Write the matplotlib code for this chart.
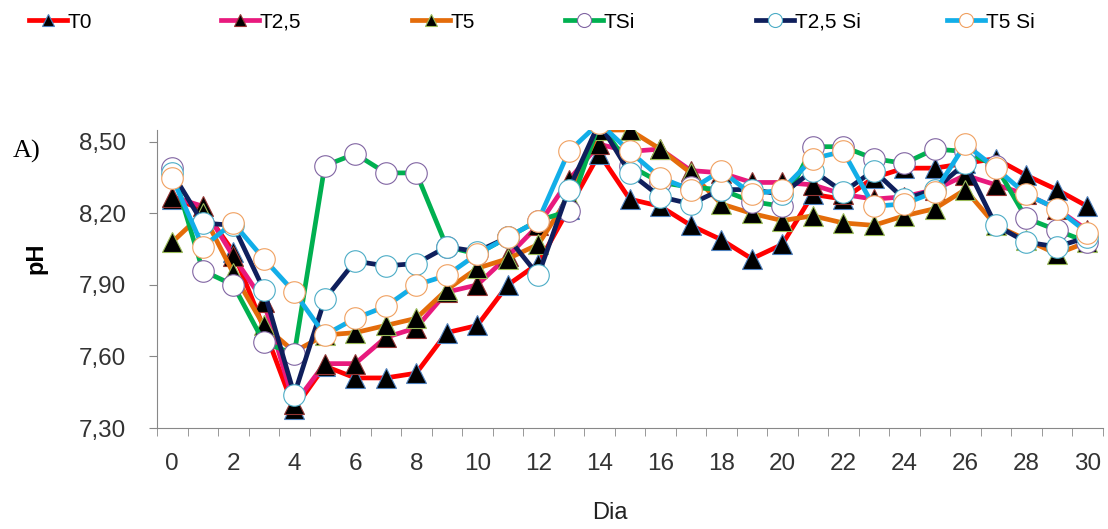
import numpy as np
import matplotlib
matplotlib.use("Agg")
from matplotlib import pyplot as plt

# days of the trial
days = list(range(31))

# pH readings per treatment
t0 = [8.26, 8.22, 8.04, 7.72, 7.38, 7.56, 7.51, 7.51, 7.53, 7.70, 7.73, 7.90, 7.99, 8.22, 8.45, 8.26,
      8.23, 8.15, 8.09, 8.01, 8.07, 8.28, 8.26, 8.35, 8.39, 8.39, 8.41, 8.43, 8.36, 8.30, 8.23]
t25 = [8.27, 8.23, 8.02, 7.83, 7.40, 7.57, 7.57, 7.68, 7.72, 7.87, 7.90, 8.02, 8.15, 8.34, 8.49, 8.46,
       8.47, 8.38, 8.37, 8.33, 8.33, 8.32, 8.28, 8.26, 8.27, 8.30, 8.36, 8.32, 8.28, 8.22, 8.13]
t5 = [8.08, 8.20, 7.95, 7.73, 7.62, 7.69, 7.70, 7.73, 7.76, 7.88, 7.97, 8.01, 8.07, 8.27, 8.55, 8.55,
      8.47, 8.37, 8.24, 8.20, 8.17, 8.19, 8.16, 8.15, 8.19, 8.22, 8.30, 8.15, 8.09, 8.03, 8.08]
tsi = [8.39, 7.96, 7.90, 7.66, 7.61, 8.40, 8.45, 8.37, 8.37, 8.06, 8.03, 8.10, 8.17, 8.21, 8.58, 8.40,
       8.33, 8.31, 8.30, 8.25, 8.23, 8.48, 8.48, 8.43, 8.41, 8.47, 8.46, 8.40, 8.18, 8.13, 8.08]
t25si = [8.37, 8.16, 8.15, 7.88, 7.44, 7.84, 8.00, 7.98, 7.99, 8.06, 8.04, 8.10, 7.94, 8.30, 8.58, 8.37,
         8.27, 8.24, 8.30, 8.30, 8.28, 8.38, 8.29, 8.38, 8.26, 8.30, 8.41, 8.15, 8.08, 8.06, 8.10]
t5si = [8.35, 8.06, 8.16, 8.01, 7.87, 7.69, 7.76, 7.81, 7.90, 7.94, 8.03, 8.10, 8.17, 8.46, 8.58, 8.46,
        8.35, 8.30, 8.38, 8.28, 8.30, 8.43, 8.46, 8.23, 8.24, 8.29, 8.49, 8.39, 8.28, 8.22, 8.12]

names = ['T0', 'T2,5', 'T5', 'TSi', 'T2,5 Si', 'T5 Si']
yticks = [7.30, 7.60, 7.90, 8.20, 8.50]

series = [
    (t0, '#ff0000', '^', 'black', '#4f81bd'),
    (t25, '#e8197d', '^', 'black', '#943634'),
    (t5, '#e46c0a', '^', 'black', '#9bbb59'),
    (tsi, '#00b050', 'o', 'white', '#8064a2'),
    (t25si, '#0f1f5c', 'o', 'white', '#4bacc6'),
    (t5si, '#12aee8', 'o', 'white', '#f0a060'),
]

fig = plt.figure(figsize=(11.08, 5.29), dpi=100)
ax = fig.add_axes([157 / 1108, 1 - 428 / 529, (1102.5 - 157) / 1108, 298 / 529])

lines = []
for (vals, col, mk, fc, ec), name in zip(series, names):
    ms = 14 if mk == '^' else 15.5
    ln, = ax.plot(days, vals, color=col, lw=3.4, marker=mk, ms=ms,
                  mfc=fc, mec=ec, mew=0.8, label=name)
    lines.append(ln)

ax.set_xlim(-0.5, 30.5)
ax.set_ylim(7.30, 8.55)
ax.set_yticks(yticks)
ax.set_yticklabels([f'{v:.2f}'.replace('.', ',') for v in yticks])
ax.set_xticks(days[::2])
ax.set_xticks(np.arange(-0.5, 31, 1), minor=True)
ax.tick_params(axis='x', which='major', length=0, pad=18)
ax.tick_params(axis='x', which='minor', length=6, color='#888888', direction='out')
ax.tick_params(axis='y', length=6, color='#888888', direction='out', pad=16)
ax.tick_params(labelsize=17.5, labelcolor='#333333')
for lab in ax.get_xticklabels() + ax.get_yticklabels():
    lab.set_family('Liberation Sans')

for side in ['top', 'right']:
    ax.spines[side].set_visible(False)
for side in ['left', 'bottom']:
    ax.spines[side].set_color('#888888')

fig.text(36 / 1108, 1 - 258 / 529, 'pH', rotation=90, ha='center', va='center',
         fontsize=17, fontweight='bold', family='Liberation Sans')
fig.text(610 / 1108, 1 - 513 / 529, 'Dia', ha='center', va='center',
         fontsize=17, family='Liberation Sans', color='#222222')
fig.text(13 / 1108, 1 - 151 / 529, 'A)', ha='left', va='center',
         fontsize=19, family='Liberation Serif')

# one legend entry per position, as in the original header row
legend_x = [29, 221, 412, 565, 756, 947]
for ln, x in zip(lines, legend_x):
    leg = fig.legend(handles=[ln], loc='center left', bbox_to_anchor=(x / 1108, 1 - 22 / 529),
                     frameon=False, handlelength=1.8, handletextpad=0.05, borderpad=0,
                     borderaxespad=0, markerscale=0.65,
                     prop={'family': 'Liberation Sans', 'size': 15})

fig.savefig('out.png', dpi=100)
